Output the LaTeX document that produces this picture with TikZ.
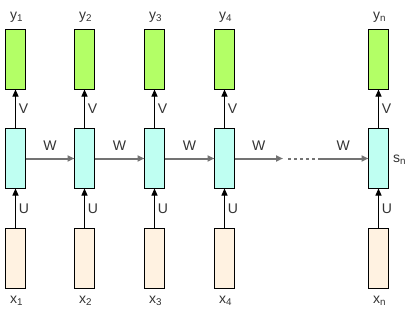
\documentclass[tikz,border=0pt]{standalone}
\usepackage{fontspec}
\setmainfont{Liberation Sans}
\usetikzlibrary{arrows.meta}
\definecolor{outg}{HTML}{B3FF66}
\definecolor{hidc}{HTML}{BFFFF2}
\definecolor{inb}{HTML}{FFF2E1}
\tikzset{
  cell/.style={draw=black, line width=1.2pt, minimum width=20pt, minimum height=60pt, inner sep=0pt, outer sep=0pt},
  ybox/.style={cell, fill=outg},
  hbox/.style={cell, fill=hidc},
  xbox/.style={cell, fill=inb},
  lbl/.style={font=\fontsize{14}{16}\selectfont, text=black!80, inner sep=0pt},
  varr/.style={draw=black, line width=0.9pt, -{Triangle[length=7pt,width=6pt]}},
  harr/.style={draw=black!55, line width=2pt, -{Triangle[length=7pt,width=6pt,fill=black]}},
}
\begin{document}
\begin{tikzpicture}[x=1pt,y=-1pt]
\useasboundingbox (0,0) rectangle (416,325);
\foreach \i/\cx/\s in {1/15.5/1, 2/84.5/2, 3/154.5/3, 4/224.5/4, n/378.5/n}{
  \node[ybox] (y\i) at (\cx,59.5) {};
  \node[hbox] (h\i) at (\cx,158.5) {};
  \node[xbox] (x\i) at (\cx,258.5) {};
  \node[lbl] (ly\i) at (\cx+1,17) {y\textsubscript{\s}};
  \node[lbl] (lx\i) at (\cx+1,301) {x\textsubscript{\s}};
  \draw[varr] (x\i.north) -- (h\i.south) node[lbl, midway, right=3pt] (u\i) {U};
  \draw[varr] (h\i.north) -- (y\i.south) node[lbl, midway, right=3pt] (v\i) {V};
}
\node[lbl, anchor=west] (sn) at (393,160) {s\textsubscript{n}};
\foreach \a/\b in {1/2, 2/3, 3/4}{
  \draw[harr] (h\a.east) -- (h\b.west) node[lbl, midway, above=7pt] (w\a) {W};
}
\coordinate (d1) at (283,158.5);
\coordinate (d2) at (288,158.5);
\coordinate (d3) at (318,158.5);
\draw[harr] (h4.east) -- (d1) node[lbl, midway, above=7pt] (w4) {W};
\draw[draw=black!55, line width=2pt, dash pattern=on 3pt off 3pt] (d2) -- (d3);
\draw[harr] (d3) -- (hn.west) node[lbl, midway, above=7pt] (wn) {W};
\end{tikzpicture}
\end{document}
